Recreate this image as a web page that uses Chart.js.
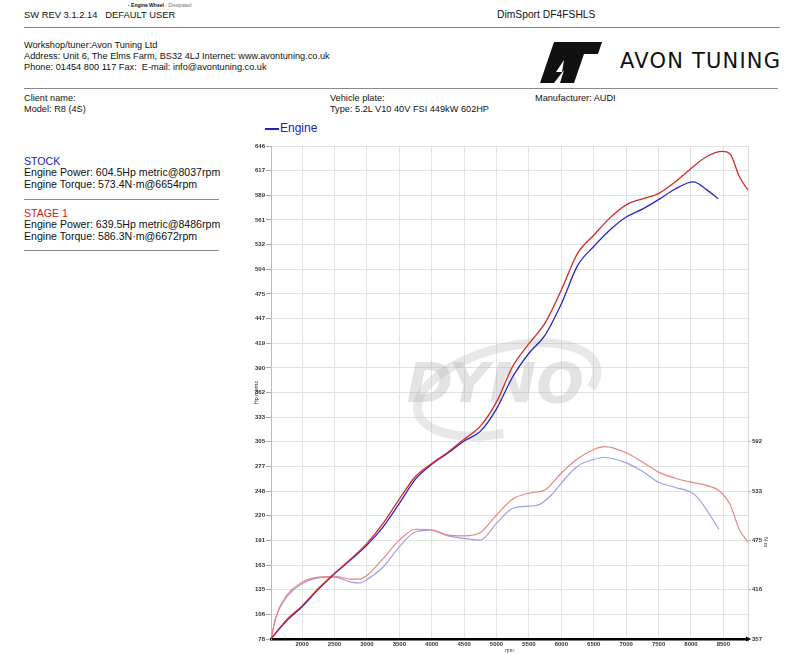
<!DOCTYPE html>
<html>
<head>
<meta charset="utf-8">
<script src="https://cdn.jsdelivr.net/npm/chart.js@4.4.0/dist/chart.umd.min.js"></script>
<style>
  body { margin: 0; background: #fff; font-family: Arial, "Liberation Sans", sans-serif; color: #111; }
  #page { position: relative; width: 800px; height: 654px; overflow: hidden; }
  .t { position: absolute; white-space: nowrap; line-height: 1; }
  .h { font-size: 9.2px; }
  .p { font-size: 10.6px; }
  .hr { position: absolute; height: 0; border-top: 1px solid #8a8a8a; }
  #dyno { position: absolute; left: 248px; top: 120px; }
</style>
</head>
<body>
<div id="page">
  <div class="t" style="left:128px;top:3px;font-size:5px;"><b>- Engine Wheel</b> <span style="color:#777">- Dissipated</span></div>
  <div class="t" style="left:24px;top:10px;font-size:9.4px;">SW REV 3.1.2.14&nbsp;&nbsp; DEFAULT USER</div>
  <div class="t" style="left:497px;top:10px;font-size:10.3px;">DimSport DF4FSHLS</div>
  <div class="hr" style="left:24px;top:27px;width:756px;"></div>

  <div class="t h" style="left:24px;top:41px;">Workshop/tuner:Avon Tuning Ltd</div>
  <div class="t h" style="left:24px;top:52px;">Address: Unit 6, The Elms Farm, BS32 4LJ Internet: www.avontuning.co.uk</div>
  <div class="t h" style="left:24px;top:63px;">Phone: 01454 800 117 Fax:&nbsp; E-mail: info@avontuning.co.uk</div>

  <svg style="position:absolute;left:540px;top:42px;" width="62" height="42" viewBox="0 0 62 42">
    <polygon points="14,0 62,0 58,12 44,12 34,41 20,41 24,28 14,41 0,41" fill="#111"/>
    <polygon points="16,30 24,18 22,30" fill="#fff"/>
  </svg>
  <div class="t" style="left:620px;top:51px;font-size:21px;letter-spacing:1.2px;font-family:'DejaVu Sans',sans-serif;">AVON TUNING</div>
  <div class="hr" style="left:24px;top:88px;width:754px;"></div>

  <div class="t h" style="left:24px;top:94px;">Client name:</div>
  <div class="t h" style="left:24px;top:105px;">Model: R8 (4S)</div>
  <div class="t h" style="left:330px;top:94px;">Vehicle plate:</div>
  <div class="t h" style="left:330px;top:105px;">Type: 5.2L V10 40V FSI 449kW 602HP</div>
  <div class="t h" style="left:535px;top:94px;">Manufacturer: AUDI</div>

  <div class="t p" style="left:24px;top:156px;color:#2020c0;">STOCK</div>
  <div class="t p" style="left:24px;top:167px;">Engine Power: 604.5Hp metric@8037rpm</div>
  <div class="t p" style="left:24px;top:179px;">Engine Torque: 573.4N·m@6654rpm</div>
  <div class="hr" style="left:24px;top:199px;width:195px;"></div>
  <div class="t p" style="left:24px;top:208px;color:#d02020;">STAGE 1</div>
  <div class="t p" style="left:24px;top:219px;">Engine Power: 639.5Hp metric@8486rpm</div>
  <div class="t p" style="left:24px;top:231px;">Engine Torque: 586.3N·m@6672rpm</div>
  <div class="hr" style="left:24px;top:250px;width:195px;"></div>

  <div style="position:absolute;left:265px;top:128px;width:14px;border-top:2px solid #2020c0;"></div>
  <div class="t" style="left:280px;top:122px;font-size:12px;color:#2020c0;">Engine</div>

  <canvas id="dyno" width="552" height="534"></canvas>
  <div class="t" style="left:758px;top:537px;font-size:5.5px;color:#333;transform:rotate(90deg);transform-origin:0 0;left:768px;">N·m</div>
</div>
<script>
// rpm axis
const rpmMin = 1520, rpmMax = 8880;
const rpmTicks = [2000, 2500, 3000, 3500, 4000, 4500, 5000, 5500, 6000, 6500, 7000, 7500, 8000, 8500];

// left axis (Hp metric) labels, evenly spaced
const hpMin = 77.8, hpStep = 28.4;
const hpTicks = [78, 106, 135, 163, 191, 220, 248, 277, 305, 333, 362, 390, 419, 447, 475, 504, 532, 561, 589, 617, 646];

// right axis (N·m) labels, every second grid line
const nmMin = 357.3, nmStep = 58.7;
const nmTicks = [357, 416, 475, 533, 592];

// stage 1 power
const stagePowerRpm = [1520, 1750, 2000, 2250, 2500, 2750, 3000, 3250, 3500, 3750, 4000, 4250, 4500, 4750, 5000, 5250, 5500, 5750, 6000, 6250, 6500, 6750, 7000, 7250, 7500, 7750, 8000, 8250, 8486, 8600, 8750, 8880];
const stagePowerHp = [78, 99, 116, 136, 153.5, 170, 188, 211, 239, 265, 280, 293, 308, 323, 351, 392, 418, 442, 480, 522, 543, 563, 578, 585, 591, 604, 620, 634, 639.5, 637, 610, 595];

// stock power
const stockPowerRpm = [1520, 1750, 2000, 2250, 2500, 2750, 3000, 3250, 3500, 3750, 4000, 4250, 4500, 4750, 5000, 5250, 5500, 5750, 6000, 6250, 6500, 6750, 7000, 7250, 7500, 7750, 8037, 8250, 8420];
const stockPowerHp = [78, 98, 115, 135, 153, 169, 186, 207, 234, 262, 279, 292, 306, 317, 343, 380, 407, 428, 464, 508, 530, 549, 564, 573, 584, 596, 604.5, 595, 585];

// stage 1 torque
const stageTorqueRpm = [1520, 1600, 1750, 2000, 2250, 2500, 2750, 2900, 3000, 3250, 3500, 3750, 4000, 4250, 4500, 4750, 5000, 5250, 5500, 5750, 6000, 6250, 6500, 6672, 7000, 7250, 7500, 7750, 8000, 8250, 8450, 8600, 8750, 8880];
const stageTorqueNm = [357, 385, 408, 425, 431, 432, 428.5, 429, 433, 453, 475, 488, 487, 481, 480, 484, 505, 524, 531, 535, 555, 572, 583, 586.3, 579, 568, 556, 549, 544, 540, 533, 518, 487, 473];

// stock torque
const stockTorqueRpm = [1520, 1600, 1750, 2000, 2250, 2500, 2750, 2900, 3000, 3250, 3500, 3750, 4000, 4250, 4500, 4750, 5000, 5250, 5500, 5650, 5850, 6000, 6250, 6500, 6654, 7000, 7250, 7500, 7750, 8000, 8100, 8250, 8430];
const stockTorqueNm = [357, 384, 406, 423, 430, 431, 425, 424, 428, 443, 467, 485, 487, 480, 477, 475, 495, 513, 515.5, 517, 529, 543, 563, 571, 573.4, 567, 557, 544, 538, 532, 526, 510, 488];

const pts = (xs, ys) => xs.map((x, i) => ({ x: x, y: ys[i] }));

const watermark = {
    id: 'watermark',
    beforeDatasetsDraw(chart) {
        const a = chart.chartArea;
        const ctx = chart.ctx;
        const cx = a.left + a.width * 0.47, cy = a.top + a.height * 0.49;
        ctx.save();
        ctx.strokeStyle = 'rgba(190,190,190,0.35)';
        ctx.lineWidth = 9;
        ctx.beginPath();
        ctx.ellipse(cx + 12, cy + 2, 92, 42, -0.25, 0.55 * Math.PI, 2.15 * Math.PI);
        ctx.stroke();
        ctx.fillStyle = 'rgba(185,185,185,0.4)';
        ctx.font = 'italic bold 56px "DejaVu Sans", sans-serif';
        ctx.textAlign = 'center';
        ctx.textBaseline = 'middle';
        ctx.fillText('DYNO', cx, cy);
        ctx.restore();
    },
    afterDraw(chart) {
        // small arrow head at the end of the rpm axis
        const a = chart.chartArea;
        const ctx = chart.ctx;
        ctx.save();
        ctx.fillStyle = '#000';
        ctx.beginPath();
        ctx.moveTo(a.right + 3, a.bottom);
        ctx.lineTo(a.right - 2, a.bottom - 2.5);
        ctx.lineTo(a.right - 2, a.bottom + 2.5);
        ctx.closePath();
        ctx.fill();
        ctx.restore();
    }
};

const tickFont = { size: 6, weight: 'bold', family: 'Arial, "Liberation Sans", sans-serif' };

new Chart(document.getElementById('dyno').getContext('2d'), {
    type: 'line',
    data: {
        datasets: [
            {
                label: 'Stage 1 Power',
                data: pts(stagePowerRpm, stagePowerHp),
                borderColor: '#d42a2a',
                borderWidth: 1.3,
                yAxisID: 'y'
            },
            {
                label: 'Stock Power',
                data: pts(stockPowerRpm, stockPowerHp),
                borderColor: '#2828c4',
                borderWidth: 1.3,
                yAxisID: 'y'
            },
            {
                label: 'Stage 1 Torque',
                data: pts(stageTorqueRpm, stageTorqueNm),
                borderColor: '#ec8484',
                borderWidth: 1.2,
                yAxisID: 'y2'
            },
            {
                label: 'Stock Torque',
                data: pts(stockTorqueRpm, stockTorqueNm),
                borderColor: '#a0a0e6',
                borderWidth: 1.2,
                yAxisID: 'y2'
            }
        ]
    },
    options: {
        responsive: false,
        animation: false,
        devicePixelRatio: 1,
        layout: { padding: { top: 26, right: 30, left: 0, bottom: 0 } },
        elements: {
            point: { radius: 0 },
            line: { cubicInterpolationMode: 'monotone', fill: false }
        },
        plugins: {
            legend: { display: false },
            tooltip: { enabled: false }
        },
        scales: {
            x: {
                type: 'linear',
                min: rpmMin,
                max: rpmMax,
                afterBuildTicks: s => { s.ticks = rpmTicks.map(v => ({ value: v })); },
                afterFit: s => { s.height = 15; },
                ticks: { font: tickFont, color: '#333', padding: 2, maxRotation: 0, autoSkip: false, callback: v => v },
                grid: { color: '#e2e2e2', drawTicks: false },
                border: { color: '#000', width: 2.5 },
                title: { display: true, text: 'rpm', font: { size: 5 }, color: '#333', padding: 0 }
            },
            y: {
                position: 'left',
                min: hpMin,
                max: hpMin + hpStep * (hpTicks.length - 1),
                afterBuildTicks: s => { s.ticks = hpTicks.map((t, i) => ({ value: hpMin + i * hpStep })); },
                afterFit: s => { s.width = 23; },
                ticks: { font: tickFont, color: '#333', padding: 1, autoSkip: false, callback: (v, i) => hpTicks[i] },
                grid: { color: '#e2e2e2', tickLength: 5, tickColor: '#aaa' },
                border: { color: '#bbb', width: 1 },
                title: { display: true, text: 'Hp metric', font: { size: 5.5 }, color: '#333', padding: { top: 5, bottom: 0 } }
            },
            y2: {
                position: 'right',
                min: nmMin,
                max: nmMin + nmStep * 10,
                afterBuildTicks: s => { s.ticks = nmTicks.map((t, i) => ({ value: nmMin + i * nmStep })); },
                afterFit: s => { s.width = 22; },
                ticks: { font: tickFont, color: '#333', padding: 1, autoSkip: false, callback: (v, i) => nmTicks[i] },
                grid: { drawOnChartArea: false, tickLength: 3, tickColor: '#aaa' },
                border: { color: '#d8d8d8', width: 1 }
            }
        }
    },
    plugins: [watermark]
});
</script>
</body>
</html>
